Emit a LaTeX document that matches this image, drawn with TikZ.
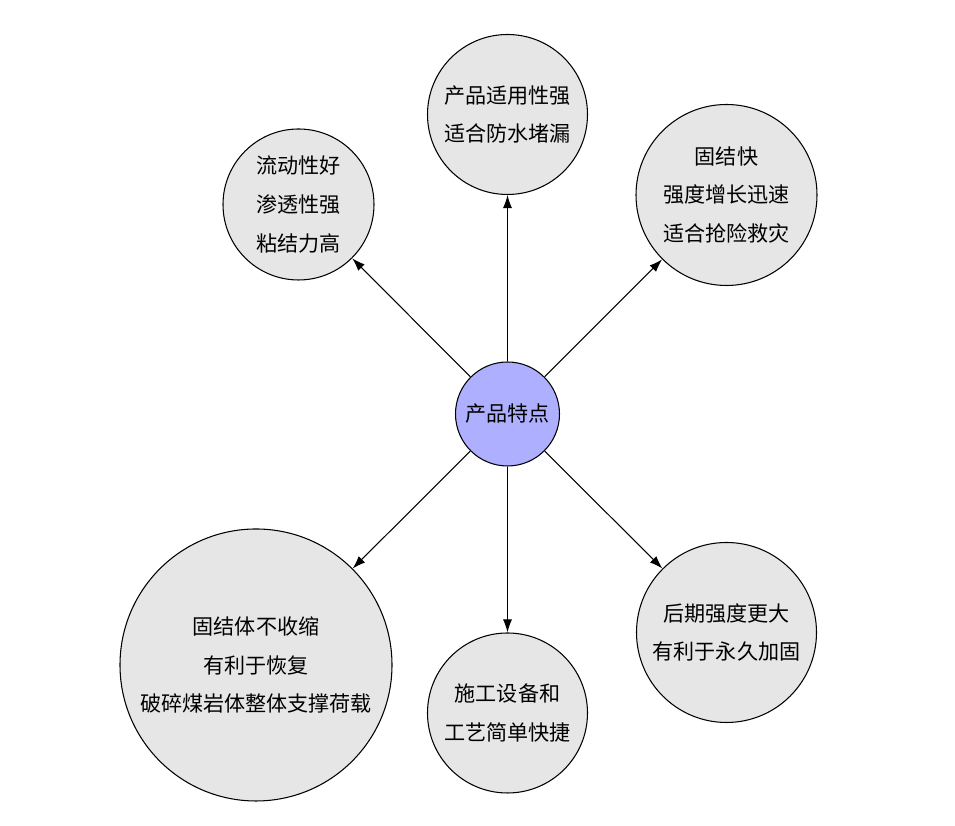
\documentclass[tikz,border=0pt]{standalone}
\usepackage{fontspec}
\newfontfamily\cjk{Noto Sans CJK SC}
\usetikzlibrary{arrows.meta}
\definecolor{bubblegray}{HTML}{E6E6E6}
\definecolor{hublilac}{HTML}{AFAFFF}

\begin{document}
\begin{tikzpicture}[
    bubble/.style={circle, draw, line width=0.6pt, fill=bubblegray, inner sep=0pt,
        align=center, font=\cjk\fontsize{12}{22}\selectfont},
    hub/.style={bubble, fill=hublilac, minimum size=2.08cm},
    link/.style={-{Latex[length=0.26cm,width=0.18cm]}, line width=0.6pt}
]
    \useasboundingbox (0,0) rectangle (19.1,16.52);

    % Define points
    \coordinate (C) at (10.15,8.24);
    \coordinate (T) at (10.15,14.23);
    \coordinate (TL) at (5.97,12.43);
    \coordinate (TR) at (14.53,12.62);
    \coordinate (BL) at (5.12,3.22);
    \coordinate (B) at (10.15,2.26);
    \coordinate (BR) at (14.53,3.87);

    % Central node
    \node [hub] (hub) at (C) {产品特点};

    % Feature bubbles
    \node [bubble, minimum size=3.2cm] (suit) at (T) {产品适用性强\\适合防水堵漏};
    \node [bubble, minimum size=3.02cm] (flow) at (TL) {流动性好\\渗透性强\\粘结力高};
    \node [bubble, minimum size=3.62cm] (fast) at (TR) {固结快\\强度增长迅速\\适合抢险救灾};
    \node [bubble, minimum size=5.44cm] (shrink) at (BL) {固结体不收缩\\有利于恢复\\破碎煤岩体整体支撑荷载};
    \node [bubble, minimum size=3.2cm] (easy) at (B) {施工设备和\\工艺简单快捷};
    \node [bubble, minimum size=3.6cm] (late) at (BR) {后期强度更大\\有利于永久加固};

    % Draw the arrows
    \draw [link] (hub) -- (suit);
    \draw [link] (hub) -- (flow);
    \draw [link] (hub) -- (fast);
    \draw [link] (hub) -- (shrink);
    \draw [link] (hub) -- (easy);
    \draw [link] (hub) -- (late);

\end{tikzpicture}
\end{document}
